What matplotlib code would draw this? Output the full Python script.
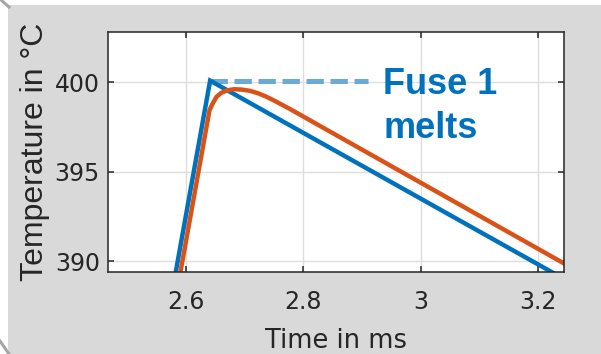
import matplotlib
matplotlib.use("Agg")
import matplotlib.pyplot as plt
from matplotlib.patches import Rectangle
from matplotlib.lines import Line2D

# temperature traces (time in ms, temperature in degC)
blue_t = [2.580, 2.641, 3.230]
blue_T = [388.95, 400.10, 389.27]

orange_t = [2.588, 2.640, 2.645, 2.652, 2.660, 2.670, 2.682, 2.695, 2.709,
            2.723, 2.737, 2.751, 2.766, 2.780, 2.794, 3.245]
orange_T = [388.95, 398.45, 398.80, 399.20, 399.42, 399.56, 399.62, 399.60, 399.53,
            399.39, 399.20, 398.97, 398.71, 398.46, 398.20, 389.86]

# melting level marker
melt_t = [2.641, 2.910]
melt_T = [400.10, 400.10]

xticks = [2.6, 2.8, 3.0, 3.2]
xticklabels = ["2.6", "2.8", "3", "3.2"]
yticks = [390, 395, 400]

BLUE = "#0072BD"
ORANGE = "#D95319"
DARK = "#262626"

plt.rcParams["font.family"] = ["DejaVu Sans"]

fig = plt.figure(figsize=(6.01, 3.54), dpi=100)
W, H = 601.0, 354.0

# gray slide-like backdrop plus the little zoom connector lines
fig.patches.append(Rectangle((8 / W, 0), 1, 1 - 5 / H, transform=fig.transFigure,
                             facecolor="#d9d9d9", edgecolor="none", zorder=-10))
for (x0, y0), (x1, y1) in [((0, -1), (9, 7)), ((0, 341), (9, 354))]:
    fig.lines.append(Line2D([x0 / W, x1 / W], [1 - y0 / H, 1 - y1 / H],
                            transform=fig.transFigure, color="#a6a6a6", lw=2.2))

ax = fig.add_axes([108 / W, 1 - 272 / H, (564 - 108) / W, (272 - 32) / H])
ax.set_facecolor("white")

ax.plot(blue_t, blue_T, color=BLUE, lw=3.2, solid_joinstyle="miter", zorder=3)
ax.plot(orange_t, orange_T, color=ORANGE, lw=3.2, zorder=3)
ax.plot(melt_t, melt_T, color="#6caad6", lw=3.6, dashes=(3.47, 1.33), zorder=2)

ax.text(2.9357, 399.33, "Fuse 1", color=BLUE, fontsize=26, fontweight="bold",
        family="Liberation Sans", ha="left", va="baseline")
ax.text(2.9357, 396.87, "melts", color=BLUE, fontsize=26, fontweight="bold",
        family="Liberation Sans", ha="left", va="baseline")

ax.set_xlim(2.467, 3.244)
ax.set_ylim(389.40, 402.82)
ax.set_xticks(xticks)
ax.set_xticklabels(xticklabels)
ax.set_yticks(yticks)

ax.grid(True, color="#dedede", lw=1.0)
ax.set_axisbelow(True)
for s in ax.spines.values():
    s.set_color(DARK)
    s.set_linewidth(1.1)
    s.set_zorder(5)

ax.tick_params(axis="both", direction="in", length=4.3, width=1.1, color=DARK,
               labelcolor=DARK, labelsize=17, top=True, right=True)
ax.tick_params(axis="x", pad=13)
ax.tick_params(axis="y", pad=5.8)

ax.set_xlabel("Time in ms", fontsize=18.5, color=DARK, labelpad=10)
ax.set_ylabel("Temperature in °C", fontsize=23, color=DARK, family="Liberation Sans",
              labelpad=3.5)

fig.savefig("out.png", dpi=100)
